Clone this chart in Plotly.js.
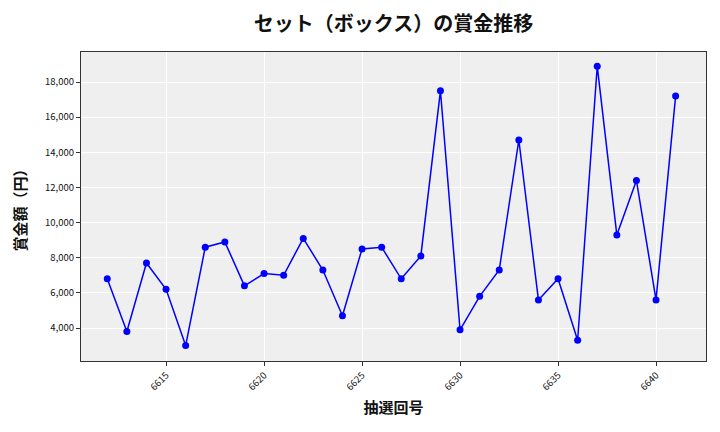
<!DOCTYPE html>
<html>
<head>
<meta charset="utf-8">
<script src="https://cdn.plot.ly/plotly-3.0.1.min.js"></script>
<style>html,body{margin:0;padding:0;background:#fff;}</style>
</head>
<body>
<div id="chart" style="width:720px;height:432px;"></div>
<script>
const drawNumbers = [6612,6613,6614,6615,6616,6617,6618,6619,6620,6621,6622,6623,6624,6625,6626,6627,6628,6629,6630,6631,6632,6633,6634,6635,6636,6637,6638,6639,6640,6641];
const prizeYen = [6800,3800,7700,6200,3000,8600,8900,6400,7100,7000,9100,7300,4700,8500,8600,6800,8100,17500,3900,5800,7300,14700,5600,6800,3300,18900,9300,12400,5600,17200];
const xTicks = [6615,6620,6625,6630,6635,6640];
const yTicks = [4000,6000,8000,10000,12000,14000,16000,18000];

const font = "'Noto Sans CJK JP', 'Noto Sans', sans-serif";
Plotly.newPlot('chart', [{
  x: drawNumbers, y: prizeYen, type: 'scatter', mode: 'lines+markers',
  line: {color: '#0000ff', width: 1.5},
  marker: {color: '#0000ff', size: 7}
}], {
  width: 720, height: 432,
  margin: {l: 81, r: 14, t: 52, b: 71},
  paper_bgcolor: '#ffffff', plot_bgcolor: '#efefef',
  font: {family: font, color: '#111'},
  title: {text: 'セット（ボックス）の賞金推移', font: {size: 20, family: font, color: '#111', weight: 'bold'}, xref: 'paper', x: 0.5, xanchor: 'center', y: 0.945, yanchor: 'middle'},
  xaxis: {
    title: {text: '抽選回号', font: {size: 15, family: font, weight: 'bold'}, standoff: 10},
    range: [6610.66, 6642.55], tickvals: xTicks, ticktext: xTicks.map(String),
    tickangle: -45, tickfont: {size: 9.5, family: font, color: '#111'},
    showgrid: true, gridcolor: '#ffffff', gridwidth: 1,
    showline: true, linecolor: '#333', linewidth: 1, mirror: true,
    ticks: 'outside', ticklen: 4, tickcolor: '#333', zeroline: false
  },
  yaxis: {
    title: {text: '賞金額（円）', font: {size: 15, family: font, weight: 'bold'}, standoff: 14},
    range: [2122, 19708], tickvals: yTicks, ticktext: yTicks.map(v => v.toLocaleString('en-US')),
    tickfont: {size: 9.5, family: font, color: '#111'},
    showgrid: true, gridcolor: '#ffffff', gridwidth: 1,
    showline: true, linecolor: '#333', linewidth: 1, mirror: true,
    ticks: 'outside', ticklen: 4, tickcolor: '#333', zeroline: false
  },
  showlegend: false
}, {displayModeBar: false, staticPlot: true});
</script>
</body>
</html>
